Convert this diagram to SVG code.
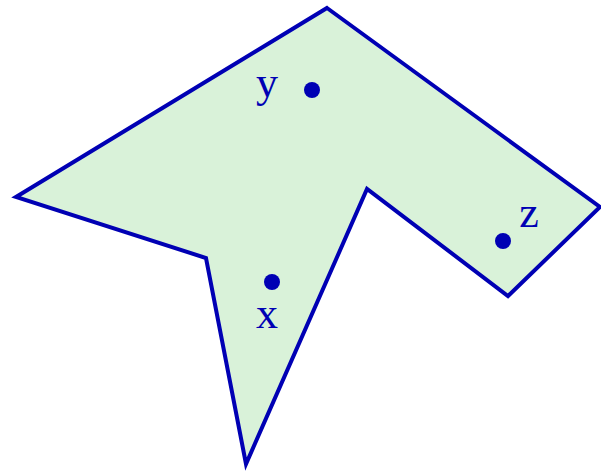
<svg xmlns="http://www.w3.org/2000/svg" width="601" height="475" viewBox="0 0 601 475">
<style>
.lbl{font-family:"Liberation Serif",serif;font-size:44px;fill:#0000b4;text-anchor:middle}
.pt{fill:#0000b4}
</style>
<rect width="601" height="475" fill="#ffffff"/>
<g id="region">
<polygon points="327,8 600,207 508,296 367,189 246,464 206,258 16,197" fill="#d9f2d9" stroke="#0000b4" stroke-width="4" stroke-linejoin="miter"/>
</g>
<g id="y"><circle class="pt" cx="312" cy="90" r="8"/><text class="lbl" x="267" y="97">y</text></g>
<g id="x"><circle class="pt" cx="272" cy="282" r="8"/><text class="lbl" x="267" y="328">x</text></g>
<g id="z"><circle class="pt" cx="503" cy="241" r="8"/><text class="lbl" x="529" y="227">z</text></g>
<g id="connectors"></g>
</svg>
